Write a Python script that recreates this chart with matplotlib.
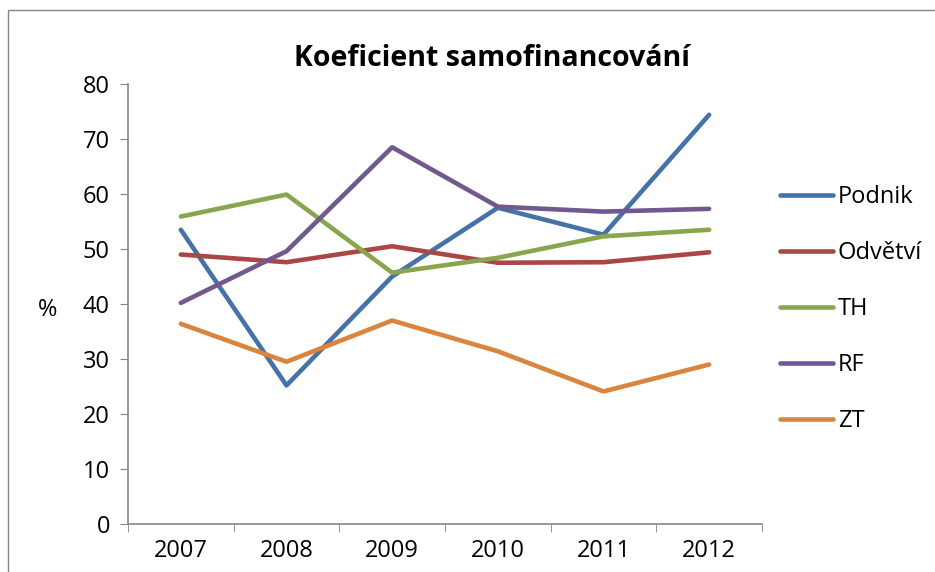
import matplotlib.pyplot as plt
from matplotlib.patches import Rectangle

plt.rcParams['font.family'] = ['Open Sans', 'DejaVu Sans']

# Data
years = ['2007', '2008', '2009', '2010', '2011', '2012']
podnik = [53.5, 25.2, 45.0, 57.5, 52.6, 74.4]
odvetvi = [49.0, 47.6, 50.5, 47.5, 47.6, 49.4]
th = [55.9, 59.9, 45.7, 48.4, 52.3, 53.5]
rf = [40.2, 49.6, 68.5, 57.7, 56.8, 57.3]
zt = [36.4, 29.5, 37.0, 31.4, 24.1, 29.0]

series = [('Podnik', podnik, '#4572A7'),
          ('Odvětví', odvetvi, '#AA4643'),
          ('TH', th, '#89A54E'),
          ('RF', rf, '#71588F'),
          ('ZT', zt, '#DB843D')]

fig = plt.figure(figsize=(9.35, 5.72), dpi=100)
ax = fig.add_axes([128/935, 1 - 524/572, (762 - 128)/935, (524 - 84)/572])

# outer chart frame (runs off the right/bottom edge)
fig.patches.append(Rectangle((8/935, -0.1), 2, 1 - 10/572 + 0.1, transform=fig.transFigure,
                             fill=False, edgecolor='#868686', linewidth=1.0))

x = list(range(len(years)))
for name, vals, col in series:
    ax.plot(x, vals, color=col, linewidth=3.3, label=name,
            solid_capstyle='round', solid_joinstyle='round')

ax.set_xlim(-0.5, len(years) - 0.5)
ax.set_ylim(0, 80)
ax.set_yticks(range(0, 81, 10))
ax.set_xticks(x)
ax.set_xticklabels(years)
ax.set_xticks([i - 0.5 for i in range(len(years) + 1)], minor=True)
ax.tick_params(axis='x', which='major', length=0, pad=11, labelsize=17)
ax.tick_params(axis='x', which='minor', length=6, color='#868686', direction='out')
ax.tick_params(axis='y', length=6, color='#868686', direction='out', labelsize=17, pad=7)

for s in ['top', 'right']:
    ax.spines[s].set_visible(False)
for s in ['left', 'bottom']:
    ax.spines[s].set_color('#868686')
    ax.spines[s].set_linewidth(1.2)

fig.text(48/935, 1 - 310/572, '%', ha='center', va='center', fontsize=17)

fig.text(492/935, 1 - 58/572, 'Koeficient samofinancování', ha='center', va='center',
         fontsize=20.5, fontweight='bold')

ax.legend(loc='upper left', bbox_to_anchor=(780/935, 1 - 185/572), bbox_transform=fig.transFigure,
          frameon=False, fontsize=17, handlelength=2.25, handletextpad=0.2, labelspacing=1.36,
          borderpad=0, borderaxespad=0)

fig.savefig('out.png', dpi=100)
